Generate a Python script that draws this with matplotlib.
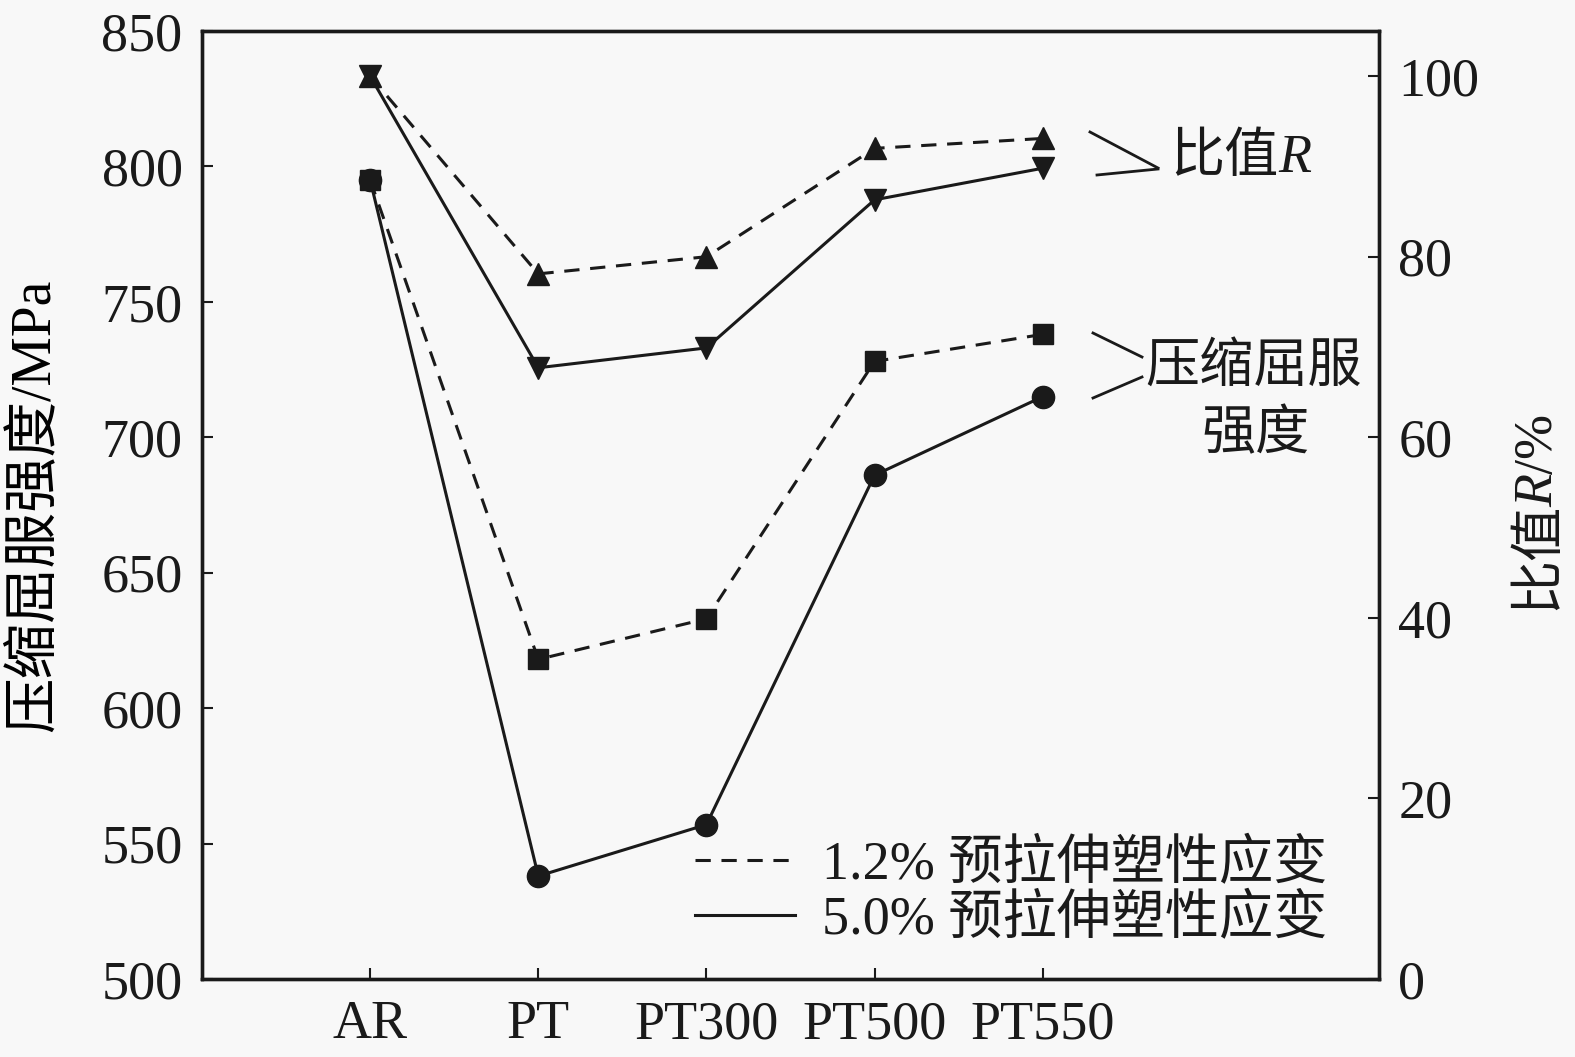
import matplotlib
matplotlib.use("Agg")
import matplotlib.pyplot as plt
from matplotlib.lines import Line2D

plt.rcParams['font.family'] = ['Liberation Serif', 'Noto Sans CJK SC']

categories = ["AR", "PT", "PT300", "PT500", "PT550"]
ys_12 = [795, 618, 633, 728, 738]       # compressive yield strength, 1.2% pre-strain
ys_50 = [795, 538, 557, 686, 715]       # compressive yield strength, 5.0% pre-strain
r_12 = [100, 78.1, 80.0, 92.0, 93.1]    # ratio R, 1.2%
r_50 = [100, 67.7, 69.9, 86.3, 89.8]    # ratio R, 5.0%
left_ticks = [500, 550, 600, 650, 700, 750, 800, 850]
right_ticks = [0, 20, 40, 60, 80, 100]
legend_labels = ["1.2% 预拉伸塑性应变", "5.0% 预拉伸塑性应变"]

W, H = 1575, 1057
BG = '#f8f8f8'
INK = '#1a1a1a'
fig = plt.figure(figsize=(W / 100, H / 100), dpi=100)
fig.patch.set_facecolor(BG)
ax = fig.add_axes([202 / W, 1 - 979 / H, (1379 - 202) / W, (979 - 31) / H])
ax.set_facecolor(BG)
ax2 = ax.twinx()

x = list(range(len(categories)))
lw = 2.2
dash = (0, (5, 3.5))
ax.plot(x, ys_12, color=INK, lw=lw, ls=dash, marker='s', ms=15)
ax.plot(x, ys_50, color=INK, lw=lw, ls='-', marker='o', ms=16)
ax2.plot(x, r_12, color=INK, lw=lw, ls=dash, marker='^', ms=16)
ax2.plot(x, r_50, color=INK, lw=lw, ls='-', marker='v', ms=16)

ax.set_xlim(-1, 6)
ax.set_ylim(500, 850)
ax2.set_ylim(0, 105)
ax.set_xticks(x)
ax.set_xticklabels(categories)
ax.set_yticks(left_ticks)
ax2.set_yticks(right_ticks)

fs = 39
for a in (ax, ax2):
    a.tick_params(direction='in', length=8, width=1.5, labelsize=fs, colors=INK)
    for s in a.spines.values():
        s.set_linewidth(2.4)
        s.set_color(INK)
ax.tick_params(axis='x', pad=15)
ax.tick_params(axis='y', pad=14)
ax2.tick_params(axis='y', pad=14)

ax.set_ylabel("压缩屈服强度/MPa", fontsize=40)
ax.yaxis.set_label_coords(-0.12, 0.5)

# manual legend (lines + labels)
leg_styles = [dash, '-']
for i, (lab, st) in enumerate(zip(legend_labels, leg_styles)):
    yy = 860 + 55 * i
    fig.add_artist(Line2D([695 / W, 795 / W], [1 - yy / H, 1 - yy / H],
                          transform=fig.transFigure, color=INK, lw=lw, ls=st))
    fig.text(822 / W, 1 - yy / H, lab, fontsize=39, va='center_baseline', ha='left', color=INK)

# rich text helper (for italic R)
fig.canvas.draw()
renderer = fig.canvas.get_renderer()

def width_px(s, **kw):
    t = fig.text(0, 0, s, **kw)
    w = t.get_window_extent(renderer).width
    t.remove()
    return w

def rich(x0, y0, parts, rotation=0, center=False, kern=None):
    ws = [width_px(s, **kw) for s, kw in parts]
    if kern:
        ws = [w + k for w, k in zip(ws, kern)]
    total = sum(ws)
    pos = -total / 2 if center else 0.0
    for (s, kw), w in zip(parts, ws):
        if rotation == 90:
            px, py = x0, y0 - pos
        else:
            px, py = x0 + pos, y0
        fig.text(px / W, 1 - py / H, s, rotation=rotation, rotation_mode='anchor',
                 ha='left', va='baseline', color=INK, **kw)
        pos += w

cjk = dict(fontsize=39)
ital = dict(fontsize=39, family='Liberation Serif', style='italic')
serif = dict(fontsize=39, family='Liberation Serif')

# right axis label: 比值R/%
rich(1552, 512, [("比值", cjk), ("R", ital), ("/%", serif)], rotation=90, center=True,
     kern=[-5, 0, 0])

# annotations
rich(1170, 172, [("比值", cjk), ("R", ital)])
fig.text(1145 / W, 1 - 383 / H, "压缩屈服", fontsize=39, va='baseline', ha='left', color=INK)
fig.text(1256 / W, 1 - 449 / H, "强度", fontsize=39, va='baseline', ha='center', color=INK)

def seg(x0, y0, x1, y1):
    fig.add_artist(Line2D([x0 / W, x1 / W], [1 - y0 / H, 1 - y1 / H],
                          transform=fig.transFigure, color=INK, lw=2.0))

seg(1090, 132, 1158, 168)
seg(1097, 175, 1158, 169)
seg(1093, 333, 1142, 357)
seg(1093, 398, 1142, 377)

fig.savefig("out.png", dpi=100, facecolor=fig.get_facecolor())
